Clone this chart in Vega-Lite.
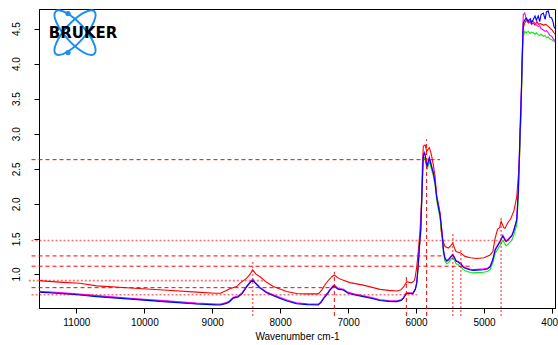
{
  "$schema": "https://vega.github.io/schema/vega-lite/v6.json",
  "width": 516,
  "height": 299,
  "autosize": {"type": "none"},
  "padding": {"left": 39, "top": 9, "right": 3, "bottom": 37},
  "background": "white",
  "config": {
    "view": {"stroke": "black", "strokeWidth": 1},
    "font": "Liberation Sans",
    "axis": {"grid": false, "domainColor": "black", "tickColor": "black", "labelColor": "black", "titleColor": "black", "labelFont": "Liberation Sans", "titleFont": "Liberation Sans", "labelFontSize": 10, "titleFontSize": 10, "titleFontWeight": "normal", "tickSize": 5}
  },
  "datasets": {
    "spectra": [
      {"w":11550,"b":0.740,"m":0.752,"g":0.746},
      {"w":11300,"b":0.725,"m":0.737,"g":0.731},
      {"w":11000,"b":0.705,"m":0.717,"g":0.711},
      {"w":10950,"b":0.700,"m":0.712,"g":0.706},
      {"w":10700,"b":0.676,"m":0.690,"g":0.683},
      {"w":10200,"b":0.640,"m":0.654,"g":0.647},
      {"w":9720,"b":0.605,"m":0.619,"g":0.612},
      {"w":9230,"b":0.570,"m":0.584,"g":0.577},
      {"w":8950,"b":0.558,"m":0.571,"g":0.565},
      {"w":8880,"b":0.557,"m":0.570,"g":0.564},
      {"w":8790,"b":0.580,"m":0.593,"g":0.587},
      {"w":8750,"b":0.600,"m":0.613,"g":0.607},
      {"w":8690,"b":0.655,"m":0.668,"g":0.662},
      {"w":8620,"b":0.672,"m":0.685,"g":0.679},
      {"w":8560,"b":0.720,"m":0.733,"g":0.727},
      {"w":8490,"b":0.820,"m":0.832,"g":0.826},
      {"w":8440,"b":0.880,"m":0.892,"g":0.886},
      {"w":8405,"b":0.910,"m":0.922,"g":0.916},
      {"w":8360,"b":0.860,"m":0.872,"g":0.866},
      {"w":8300,"b":0.800,"m":0.812,"g":0.806},
      {"w":8200,"b":0.730,"m":0.742,"g":0.736},
      {"w":8100,"b":0.690,"m":0.702,"g":0.696},
      {"w":8000,"b":0.650,"m":0.662,"g":0.656},
      {"w":7900,"b":0.614,"m":0.627,"g":0.620},
      {"w":7760,"b":0.575,"m":0.588,"g":0.581},
      {"w":7600,"b":0.562,"m":0.575,"g":0.568},
      {"w":7440,"b":0.557,"m":0.570,"g":0.563},
      {"w":7400,"b":0.590,"m":0.602,"g":0.596},
      {"w":7360,"b":0.650,"m":0.662,"g":0.656},
      {"w":7300,"b":0.720,"m":0.732,"g":0.726},
      {"w":7266,"b":0.770,"m":0.782,"g":0.776},
      {"w":7220,"b":0.820,"m":0.832,"g":0.826},
      {"w":7203,"b":0.830,"m":0.842,"g":0.836},
      {"w":7170,"b":0.800,"m":0.812,"g":0.806},
      {"w":7140,"b":0.780,"m":0.792,"g":0.786},
      {"w":7100,"b":0.775,"m":0.787,"g":0.781},
      {"w":7070,"b":0.770,"m":0.782,"g":0.776},
      {"w":7000,"b":0.725,"m":0.737,"g":0.731},
      {"w":6900,"b":0.700,"m":0.712,"g":0.706},
      {"w":6776,"b":0.676,"m":0.688,"g":0.682},
      {"w":6650,"b":0.650,"m":0.662,"g":0.656},
      {"w":6530,"b":0.620,"m":0.632,"g":0.626},
      {"w":6400,"b":0.608,"m":0.620,"g":0.614},
      {"w":6284,"b":0.605,"m":0.617,"g":0.611},
      {"w":6220,"b":0.620,"m":0.632,"g":0.626},
      {"w":6186,"b":0.650,"m":0.662,"g":0.656},
      {"w":6150,"b":0.710,"m":0.722,"g":0.716},
      {"w":6137,"b":0.720,"m":0.732,"g":0.726},
      {"w":6090,"b":0.720,"m":0.732,"g":0.726},
      {"w":6048,"b":0.715,"m":0.727,"g":0.721},
      {"w":6010,"b":0.780,"m":0.792,"g":0.780},
      {"w":5990,"b":0.870,"m":0.885,"g":0.860},
      {"w":5970,"b":1.100,"m":1.120,"g":1.070},
      {"w":5951,"b":1.390,"m":1.410,"g":1.340},
      {"w":5931,"b":1.630,"m":1.650,"g":1.580},
      {"w":5915,"b":2.100,"m":2.120,"g":2.040},
      {"w":5900,"b":2.550,"m":2.570,"g":2.490},
      {"w":5893,"b":2.680,"m":2.700,"g":2.620},
      {"w":5880,"b":2.720,"m":2.740,"g":2.660},
      {"w":5868,"b":2.700,"m":2.720,"g":2.650},
      {"w":5850,"b":2.580,"m":2.600,"g":2.540},
      {"w":5834,"b":2.530,"m":2.550,"g":2.490},
      {"w":5820,"b":2.600,"m":2.620,"g":2.560},
      {"w":5805,"b":2.650,"m":2.670,"g":2.600},
      {"w":5790,"b":2.600,"m":2.620,"g":2.560},
      {"w":5770,"b":2.520,"m":2.540,"g":2.480},
      {"w":5746,"b":2.440,"m":2.460,"g":2.400},
      {"w":5720,"b":2.300,"m":2.320,"g":2.260},
      {"w":5697,"b":2.100,"m":2.120,"g":2.060},
      {"w":5670,"b":1.950,"m":1.970,"g":1.910},
      {"w":5647,"b":1.840,"m":1.860,"g":1.800},
      {"w":5630,"b":1.700,"m":1.720,"g":1.650},
      {"w":5610,"b":1.500,"m":1.515,"g":1.450},
      {"w":5598,"b":1.340,"m":1.355,"g":1.300},
      {"w":5575,"b":1.220,"m":1.232,"g":1.185},
      {"w":5549,"b":1.180,"m":1.192,"g":1.145},
      {"w":5520,"b":1.200,"m":1.212,"g":1.165},
      {"w":5490,"b":1.240,"m":1.252,"g":1.205},
      {"w":5459,"b":1.270,"m":1.282,"g":1.235},
      {"w":5430,"b":1.220,"m":1.232,"g":1.185},
      {"w":5411,"b":1.180,"m":1.192,"g":1.145},
      {"w":5380,"b":1.170,"m":1.182,"g":1.135},
      {"w":5360,"b":1.150,"m":1.162,"g":1.115},
      {"w":5341,"b":1.140,"m":1.152,"g":1.105},
      {"w":5310,"b":1.100,"m":1.112,"g":1.065},
      {"w":5278,"b":1.080,"m":1.092,"g":1.045},
      {"w":5200,"b":1.055,"m":1.067,"g":1.020},
      {"w":5155,"b":1.050,"m":1.062,"g":1.015},
      {"w":5008,"b":1.060,"m":1.072,"g":1.025},
      {"w":4950,"b":1.070,"m":1.082,"g":1.035},
      {"w":4910,"b":1.100,"m":1.112,"g":1.065},
      {"w":4870,"b":1.200,"m":1.212,"g":1.160},
      {"w":4836,"b":1.340,"m":1.352,"g":1.295},
      {"w":4800,"b":1.400,"m":1.412,"g":1.350},
      {"w":4763,"b":1.460,"m":1.472,"g":1.410},
      {"w":4723,"b":1.540,"m":1.552,"g":1.480},
      {"w":4700,"b":1.500,"m":1.512,"g":1.440},
      {"w":4675,"b":1.460,"m":1.472,"g":1.400},
      {"w":4640,"b":1.490,"m":1.502,"g":1.430},
      {"w":4591,"b":1.540,"m":1.552,"g":1.480},
      {"w":4560,"b":1.620,"m":1.632,"g":1.560},
      {"w":4518,"b":1.770,"m":1.785,"g":1.700},
      {"w":4494,"b":2.200,"m":2.250,"g":2.100},
      {"w":4470,"b":3.000,"m":3.050,"g":2.900},
      {"w":4450,"b":3.600,"m":3.650,"g":3.500},
      {"w":4430,"b":4.340,"m":4.400,"g":4.200},
      {"w":4422,"b":4.580,"m":4.700,"g":4.390},
      {"w":4400,"b":4.620,"m":4.720,"g":4.460},
      {"w":4380,"b":4.650,"m":4.650,"g":4.440},
      {"w":4348,"b":4.600,"m":4.620,"g":4.460},
      {"w":4320,"b":4.640,"m":4.580,"g":4.430},
      {"w":4300,"b":4.580,"m":4.610,"g":4.450},
      {"w":4275,"b":4.630,"m":4.600,"g":4.440},
      {"w":4250,"b":4.680,"m":4.570,"g":4.420},
      {"w":4230,"b":4.620,"m":4.550,"g":4.440},
      {"w":4201,"b":4.680,"m":4.530,"g":4.410},
      {"w":4180,"b":4.600,"m":4.540,"g":4.400},
      {"w":4160,"b":4.700,"m":4.500,"g":4.420},
      {"w":4127,"b":4.720,"m":4.480,"g":4.390},
      {"w":4100,"b":4.630,"m":4.460,"g":4.400},
      {"w":4080,"b":4.740,"m":4.470,"g":4.370},
      {"w":4054,"b":4.750,"m":4.440,"g":4.380},
      {"w":4030,"b":4.660,"m":4.400,"g":4.350},
      {"w":4004,"b":4.650,"m":4.390,"g":4.340},
      {"w":3985,"b":4.600,"m":4.360,"g":4.330},
      {"w":3970,"b":4.530,"m":4.340,"g":4.320},
      {"w":3955,"b":4.500,"m":4.330,"g":4.310}
    ],
    "red": [
      {"w":11550,"r":0.905},{"w":11200,"r":0.880},{"w":10950,"r":0.867},{"w":10700,"r":0.830},
      {"w":10200,"r":0.800},{"w":9720,"r":0.770},{"w":9230,"r":0.740},{"w":8950,"r":0.725},
      {"w":8880,"r":0.725},{"w":8800,"r":0.760},{"w":8740,"r":0.790},{"w":8640,"r":0.820},
      {"w":8590,"r":0.870},{"w":8493,"r":0.940},{"w":8440,"r":1.000},{"w":8405,"r":1.060},
      {"w":8360,"r":1.000},{"w":8297,"r":0.960},{"w":8200,"r":0.880},{"w":8101,"r":0.820},
      {"w":7904,"r":0.750},{"w":7757,"r":0.720},{"w":7600,"r":0.715},{"w":7438,"r":0.715},
      {"w":7389,"r":0.770},{"w":7330,"r":0.860},{"w":7290,"r":0.910},{"w":7240,"r":0.960},
      {"w":7203,"r":0.985},{"w":7170,"r":0.960},{"w":7144,"r":0.940},{"w":7100,"r":0.920},
      {"w":7070,"r":0.910},{"w":6972,"r":0.876},{"w":6776,"r":0.840},{"w":6530,"r":0.780},
      {"w":6400,"r":0.765},{"w":6284,"r":0.757},{"w":6230,"r":0.770},{"w":6186,"r":0.810},
      {"w":6137,"r":0.890},{"w":6100,"r":0.880},{"w":6063,"r":0.876},{"w":6030,"r":0.900},
      {"w":6015,"r":0.940},{"w":5990,"r":1.100},{"w":5966,"r":1.340},{"w":5941,"r":1.630},
      {"w":5917,"r":2.100},{"w":5905,"r":2.600},{"w":5893,"r":2.820},{"w":5868,"r":2.840},
      {"w":5843,"r":2.750},{"w":5805,"r":2.800},{"w":5790,"r":2.760},{"w":5770,"r":2.680},
      {"w":5745,"r":2.550},{"w":5720,"r":2.390},{"w":5696,"r":2.100},{"w":5672,"r":2.000},
      {"w":5647,"r":1.870},{"w":5633,"r":1.630},{"w":5608,"r":1.490},{"w":5574,"r":1.390},
      {"w":5525,"r":1.370},{"w":5490,"r":1.400},{"w":5460,"r":1.440},{"w":5430,"r":1.360},
      {"w":5412,"r":1.320},{"w":5343,"r":1.300},{"w":5280,"r":1.250},{"w":5200,"r":1.230},
      {"w":5108,"r":1.220},{"w":5000,"r":1.230},{"w":4912,"r":1.270},{"w":4870,"r":1.320},
      {"w":4838,"r":1.500},{"w":4800,"r":1.640},{"w":4770,"r":1.660},{"w":4748,"r":1.750},
      {"w":4710,"r":1.660},{"w":4690,"r":1.650},{"w":4650,"r":1.730},{"w":4610,"r":1.780},
      {"w":4560,"r":1.900},{"w":4518,"r":2.100},{"w":4480,"r":2.580},{"w":4455,"r":3.300},
      {"w":4440,"r":4.000},{"w":4425,"r":4.500},{"w":4400,"r":4.580},{"w":4375,"r":4.620},
      {"w":4348,"r":4.580},{"w":4320,"r":4.600},{"w":4300,"r":4.560},{"w":4275,"r":4.580},
      {"w":4250,"r":4.550},{"w":4220,"r":4.600},{"w":4201,"r":4.560},{"w":4170,"r":4.570},
      {"w":4127,"r":4.550},{"w":4090,"r":4.560},{"w":4054,"r":4.530},{"w":4020,"r":4.500},
      {"w":3990,"r":4.470},{"w":3970,"r":4.440},{"w":3955,"r":4.420}
    ],
    "hDashed": [
      {"level":2.63,"from":11660,"to":5646},
      {"level":1.257,"from":11660,"to":5602},
      {"level":1.11,"from":11660,"to":5165},
      {"level":0.804,"from":11660,"to":7119}
    ],
    "hDotted": [
      {"level":1.476,"from":11660,"to":4586},
      {"level":0.904,"from":11700,"to":8253},
      {"level":0.704,"from":11660,"to":5985}
    ],
    "vDashed": [
      {"pos":7203,"low":0.40,"high":1.03},
      {"pos":6143,"low":0.40,"high":0.96},
      {"pos":5845,"low":0.40,"high":2.92}
    ],
    "vDotted": [
      {"pos":8405,"low":0.40,"high":1.175},
      {"pos":5459,"low":0.40,"high":1.58},
      {"pos":5341,"low":0.40,"high":1.37},
      {"pos":4748,"low":0.40,"high":1.80}
    ],
    "logoOrbit": [
      {"w":11020,"a":4.443,"ang":48},
      {"w":11020,"a":4.443,"ang":-48}
    ],
    "logoDot": [
      {"w":11123,"a":4.714},
      {"w":11123,"a":4.157}
    ],
    "logoText": [
      {"w":10902,"a":4.443,"t":"BRUKER"}
    ]
  },
  "layer": [
    {
      "data": {"name": "red"},
      "mark": {"type": "line", "color": "#ff0000", "strokeWidth": 1.1},
      "encoding": {
        "x": {"field": "w", "type": "quantitative", "scale": {"domain": [3955, 11550], "reverse": true, "nice": false, "zero": false},
              "axis": {"title": "Wavenumber cm-1", "values": [4000,5000,6000,7000,8000,9000,10000,11000], "format": "d", "labelPadding": 4, "titlePadding": 4}},
        "y": {"field": "r", "type": "quantitative", "scale": {"domain": [0.514, 4.779], "nice": false, "zero": false},
              "axis": {"title": null, "values": [1,1.5,2,2.5,3,3.5,4,4.5], "format": ".1f", "labelAngle": 270, "labelAlign": "center", "labelBaseline": "bottom", "labelPadding": 13}},
        "order": {"field": "w", "type": "quantitative", "sort": "descending"}
      }
    },
    {
      "data": {"name": "spectra"},
      "transform": [{"fold": ["g", "m", "b"], "as": ["s", "a"]}],
      "mark": {"type": "line", "strokeWidth": 1.1},
      "encoding": {
        "x": {"field": "w", "type": "quantitative"},
        "y": {"field": "a", "type": "quantitative"},
        "color": {"field": "s", "type": "nominal", "scale": {"domain": ["g", "m", "b"], "range": ["#00ee00", "#ff00ff", "#0000ff"]}, "legend": null},
        "order": {"field": "w", "type": "quantitative", "sort": "descending"}
      }
    },
    {
      "data": {"name": "hDashed"},
      "mark": {"type": "rule", "color": "#ff0000", "strokeDash": [4, 3], "strokeWidth": 1},
      "encoding": {"x": {"field": "from", "type": "quantitative"}, "x2": {"field": "to"}, "y": {"field": "level", "type": "quantitative"}}
    },
    {
      "data": {"name": "hDotted"},
      "mark": {"type": "rule", "color": "#ff0000", "opacity": 0.55, "strokeDash": [2, 2], "strokeWidth": 1.6},
      "encoding": {"x": {"field": "from", "type": "quantitative"}, "x2": {"field": "to"}, "y": {"field": "level", "type": "quantitative"}}
    },
    {
      "data": {"name": "vDashed"},
      "mark": {"type": "rule", "color": "#ff0000", "strokeDash": [4, 3], "strokeWidth": 1},
      "encoding": {"x": {"field": "pos", "type": "quantitative"}, "y": {"field": "low", "type": "quantitative"}, "y2": {"field": "high"}}
    },
    {
      "data": {"name": "vDotted"},
      "mark": {"type": "rule", "color": "#ff0000", "opacity": 0.55, "strokeDash": [2, 2], "strokeWidth": 1.6},
      "encoding": {"x": {"field": "pos", "type": "quantitative"}, "y": {"field": "low", "type": "quantitative"}, "y2": {"field": "high"}}
    },
    {
      "data": {"name": "logoOrbit"},
      "mark": {"type": "point", "shape": "M-1,0A1,0.34,0,1,1,1,0A1,0.34,0,1,1,-1,0Z", "filled": false, "stroke": "#1f8fef", "strokeWidth": 2, "size": 3300, "opacity": 1},
      "encoding": {"x": {"field": "w", "type": "quantitative"}, "y": {"field": "a", "type": "quantitative"}, "angle": {"field": "ang", "type": "quantitative", "scale": null}}
    },
    {
      "data": {"name": "logoDot"},
      "mark": {"type": "point", "shape": "circle", "filled": true, "color": "#1f8fef", "size": 28, "opacity": 1},
      "encoding": {"x": {"field": "w", "type": "quantitative"}, "y": {"field": "a", "type": "quantitative"}}
    },
    {
      "data": {"name": "logoText"},
      "mark": {"type": "text", "font": "DejaVu Sans", "fontWeight": "bold", "fontSize": 15, "color": "black", "align": "center", "baseline": "middle"},
      "encoding": {"x": {"field": "w", "type": "quantitative"}, "y": {"field": "a", "type": "quantitative"}, "text": {"field": "t"}}
    }
  ]
}
